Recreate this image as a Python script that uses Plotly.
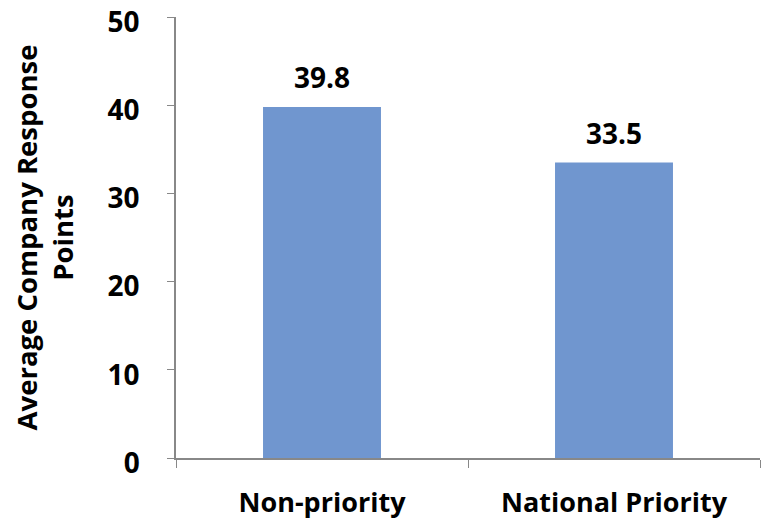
import plotly.graph_objects as go

categories = ["Non-priority", "National Priority"]
values = [39.8, 33.5]
value_labels = ["39.8", "33.5"]
y_ticks = [0, 10, 20, 30, 40, 50]

FONT = "'Open Sans', sans-serif"

fig = go.Figure(go.Bar(
    x=categories, y=values,
    marker=dict(color="#7096cf", line=dict(width=0)),
))

for cat, val, lab in zip(categories, values, value_labels):
    fig.add_annotation(
        x=cat, y=val, text=lab, showarrow=False,
        xanchor="center", yanchor="bottom", yshift=9,
        font=dict(family=FONT, size=28, color="black", weight="bold"),
    )

fig.update_layout(
    width=762, height=524,
    margin=dict(l=176, r=2, t=17, b=66),
    paper_bgcolor="white", plot_bgcolor="white",
    bargap=0.596,
    showlegend=False,
    font=dict(family=FONT, color="black"),
)
fig.update_yaxes(
    range=[0, 50], tickvals=y_ticks, showgrid=False, zeroline=False,
    showline=True, linecolor="#888888", linewidth=1.5,
    ticks="outside", ticklen=7, tickcolor="#888888",
    tickfont=dict(family=FONT, size=28, color="black", weight="bold"),
    ticklabelstandoff=22, ticklabelshift=5, ticklabeloverflow="allow",
    automargin=False,
    title=dict(text="Average Company Response<br>Points",
               font=dict(family=FONT, size=27.5, color="black", weight="bold"),
               standoff=26),
)
fig.update_xaxes(
    showgrid=False, showline=True, linecolor="#888888", linewidth=1.5,
    ticks="outside", tickson="boundaries", ticklen=8, tickcolor="#888888",
    tickfont=dict(family=FONT, size=27, color="black", weight="bold"),
    ticklabelstandoff=20, automargin=False,
)

fig.write_html("out.html")
